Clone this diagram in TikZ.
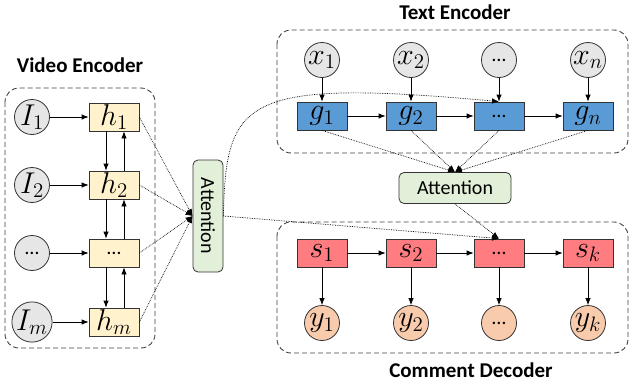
\documentclass[tikz,border=0pt]{standalone}
\usepackage{fontspec}
\setmainfont{Carlito}
\usetikzlibrary{arrows,arrows.meta}
\usepackage{xcolor}
\usepackage{amsmath}
\definecolor{tokengray}{HTML}{E7E6E6}
\definecolor{hyellow}{HTML}{FFF2CC}
\definecolor{gblue}{HTML}{5B9BD5}
\definecolor{sred}{HTML}{FF7C80}
\definecolor{ypeach}{HTML}{F8CBAD}
\definecolor{attgreen}{HTML}{E2F0D9}
\newcommand{\mlab}[1]{\scalebox{1.45}{$#1$}}
\tikzset{
 cell/.style={draw=black!80, line width=.8pt, minimum width=50, minimum height=28, inner sep=0},
 token/.style={circle, draw=black!80, line width=.8pt, minimum size=35, inner sep=0},
 group/.style={draw=black!75, line width=.9pt, dash pattern=on 5pt off 3pt, rounded corners=14},
 title/.style={font=\fontsize{21}{25}\selectfont\bfseries},
 att/.style={draw=black!80, line width=.8pt, fill=attgreen, rounded corners=5, inner sep=0},
 link/.style={line width=.8pt, ->, >={Latex[length=7pt,width=5.5pt]}},
 attlink/.style={densely dotted, line width=.7pt, ->, >={Latex[length=7pt,width=5.5pt]}},
}
\begin{document}
\begin{tikzpicture}[x=1pt,y=-1pt,font=\fontsize{20}{24}\selectfont]
\useasboundingbox (0,0) rectangle (629,388);
\draw[group] (5,88) rectangle (155,348);
\draw[group] (277,30) rectangle (628,153);
\draw[group] (277,222) rectangle (628,353);
\node[title] (vtitle) at (80,65) {Video Encoder};
\node[title] (ttitle) at (455,12) {Text Encoder};
\node[title] (ctitle) at (471,370) {Comment Decoder};

\foreach \i/\y/\il/\hl in {1/117/\mlab{I_1}/\mlab{h_1}, 2/185/\mlab{I_2}/\mlab{h_2}, 3/253/\dots/\dots, 4/322/\mlab{I_m}/\mlab{h_m}} {
 \node[token, fill=tokengray] (I\i) at (32,\y) {\il};
 \node[cell, fill=hyellow] (h\i) at (114,\y) {\hl};
 \draw[link] (I\i) -- (h\i);
}
\foreach \i/\j in {1/2,2/3,3/4} {
 \draw[link] ([xshift=-8]h\i.south) -- ([xshift=-8]h\j.north);
 \draw[link] ([xshift=10]h\j.north) -- ([xshift=10]h\i.south);
}
\node[att, minimum width=30, minimum height=112] (attv) at (208,216) {\rotatebox{-90}{Attention}};
\foreach \i in {1,...,4}
 \draw[attlink] (h\i.east) -- (attv.west);

\foreach \i/\x/\xl/\gl/\sl/\yl in {1/322/\mlab{x_1}/\mlab{g_1}/\mlab{s_1}/\mlab{y_1}, 2/411/\mlab{x_2}/\mlab{g_2}/\mlab{s_2}/\mlab{y_2}, 3/499/\dots/\dots/\dots/\dots, 4/588/\mlab{x_n}/\mlab{g_n}/\mlab{s_k}/\mlab{y_k}} {
 \node[token, fill=tokengray] (x\i) at (\x,60) {\xl};
 \node[cell, fill=gblue] (g\i) at (\x,116) {\gl};
 \draw[link] (x\i) -- (g\i);
 \node[cell, fill=sred] (s\i) at (\x,253) {\sl};
 \node[token, fill=ypeach] (y\i) at (\x,323) {\yl};
 \draw[link] (s\i) -- (y\i);
}
\foreach \i/\j in {1/2,2/3,3/4} {
 \draw[link] (g\i) -- (g\j);
 \draw[link] (s\i) -- (s\j);
}
\node[att, minimum width=112, minimum height=31] (attt) at (455,188) {Attention};
\foreach \i in {1,...,4}
 \draw[attlink] (g\i.south) -- (attt.north);

\draw[attlink] (attt.south) -- (s3.north);
\draw[attlink] (attv.east) -- (s3.north);
\draw[attlink] (attv.east) .. controls (226,100) and (242,78) .. (g3.north);
\end{tikzpicture}
\end{document}
